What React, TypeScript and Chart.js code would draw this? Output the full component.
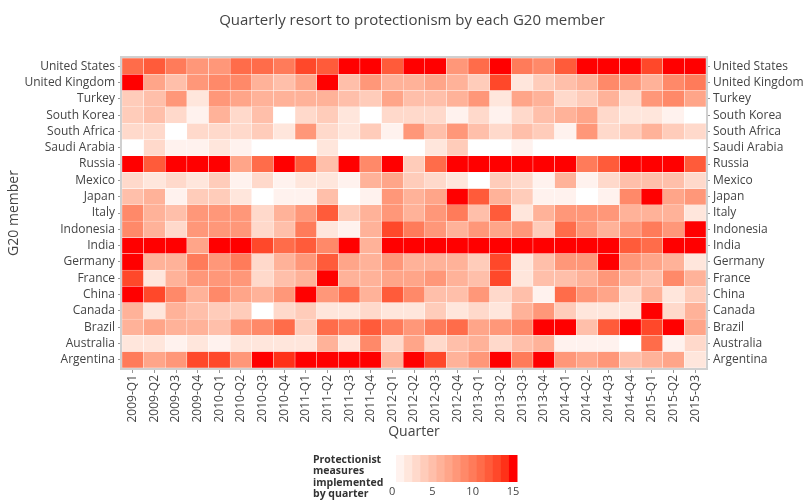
import { useEffect, useRef } from 'react';
import { Chart, registerables } from 'chart.js';

Chart.register(...registerables);

// Rows from bottom to top
const countries = [
  'Argentina', 'Australia', 'Brazil', 'Canada', 'China', 'France', 'Germany', 'India',
  'Indonesia', 'Italy', 'Japan', 'Mexico', 'Russia', 'Saudi Arabia', 'South Africa',
  'South Korea', 'Turkey', 'United Kingdom', 'United States',
];

const quarters = [
  '2009-Q1', '2009-Q2', '2009-Q3', '2009-Q4', '2010-Q1', '2010-Q2', '2010-Q3', '2010-Q4',
  '2011-Q1', '2011-Q2', '2011-Q3', '2011-Q4', '2012-Q1', '2012-Q2', '2012-Q3', '2012-Q4',
  '2013-Q1', '2013-Q2', '2013-Q3', '2013-Q4', '2014-Q1', '2014-Q2', '2014-Q3', '2014-Q4',
  '2015-Q1', '2015-Q2', '2015-Q3',
];

const argentina = [10,7,8,13,13,8,15,14,15,15,15,15,6,15,13,6,8,15,10,15,8,7,8,5,6,7,2];
const australia = [2,2,1,2,1,2,2,2,2,6,2,9,3,7,3,5,6,3,5,6,1,1,1,0,11,1,3];
const brazil = [6,7,6,6,5,8,9,11,4,11,10,12,10,8,10,11,7,8,9,15,15,5,12,15,13,15,7];
const canada = [6,2,6,5,4,4,0,3,4,2,2,3,2,2,4,2,3,2,6,8,4,2,2,2,15,3,6];
const china = [15,13,9,6,9,7,6,8,15,8,11,6,12,9,5,5,8,3,5,1,11,8,7,3,6,2,4];
const france = [13,2,6,8,8,8,3,5,6,15,6,6,7,7,8,6,5,13,2,5,5,6,8,6,5,9,6];
const germany = [15,6,6,10,8,10,3,6,8,12,7,6,8,6,6,6,4,13,2,5,8,8,15,8,7,6,2];
const india = [15,15,15,7,15,15,13,11,12,9,15,6,15,15,15,15,15,15,15,15,15,15,15,12,11,15,15];
const indonesia = [9,6,3,8,8,8,3,5,10,2,1,6,13,10,8,6,8,7,8,4,11,8,6,8,10,8,15];
const italy = [9,6,5,8,8,8,3,6,8,12,4,6,8,6,8,10,5,12,2,6,8,8,8,6,6,6,2];
const japan = [5,6,1,4,4,2,0,1,1,5,0,1,8,6,7,15,12,6,4,1,1,0,1,9,15,7,8];
const mexico = [3,2,3,2,4,1,3,1,2,2,1,6,7,4,3,2,0,4,3,1,6,1,3,5,5,5,3];
const russia = [15,12,15,15,15,7,11,15,12,5,15,9,15,4,11,15,15,15,15,15,15,10,12,15,15,15,12];
const saudiArabia = [0,3,1,1,2,1,0,0,0,2,0,0,0,0,2,4,0,0,1,0,0,0,0,0,0,0,0];
const southAfrica = [3,3,0,3,3,3,4,2,8,3,2,4,1,8,5,8,5,3,5,4,1,8,3,4,6,4,3];
const southKorea = [4,5,3,1,6,3,5,0,3,4,2,0,3,3,3,1,3,1,3,5,6,7,3,2,2,1,0];
const turkey = [4,5,8,2,8,7,6,6,6,6,5,4,7,5,5,6,8,2,7,6,3,4,6,3,8,9,7];
const unitedKingdom = [15,7,5,8,9,9,6,5,7,15,5,8,6,6,7,6,4,13,2,4,5,6,9,8,6,9,10];
const unitedStates = [11,12,10,8,8,11,11,10,13,12,15,15,12,15,15,8,11,15,10,9,12,15,15,15,13,15,15];

const rows = [
  argentina, australia, brazil, canada, china, france, germany, india, indonesia, italy,
  japan, mexico, russia, saudiArabia, southAfrica, southKorea, turkey, unitedKingdom, unitedStates,
];

const colorTicks = [0, 5, 10, 15];
const zMin = 0;
const zMax = 15;
const chartTitle = 'Quarterly resort to protectionism by each G20 member';
const colorbarTitle = ['Protectionist', 'measures', 'implemented', 'by quarter'];

const FONT = '"Open Sans", "DejaVu Sans", sans-serif';

function toLin(c: number) {
  const v = c / 255;
  return v <= 0.04045 ? v / 12.92 : Math.pow((v + 0.055) / 1.055, 2.4);
}
function fromLin(c: number) {
  const v = c <= 0.0031308 ? 12.92 * c : 1.055 * Math.pow(c, 1 / 2.4) - 0.055;
  return Math.round(Math.max(0, Math.min(1, v)) * 255);
}
function rgbToLab(rgb: number[]) {
  const R = toLin(rgb[0]), G = toLin(rgb[1]), B = toLin(rgb[2]);
  const X = (0.4124 * R + 0.3576 * G + 0.1805 * B) / 0.95047;
  const Y = 0.2126 * R + 0.7152 * G + 0.0722 * B;
  const Z = (0.0193 * R + 0.1192 * G + 0.9505 * B) / 1.08883;
  const f = (t: number) => (t > 0.008856 ? Math.cbrt(t) : 7.787 * t + 16 / 116);
  const fx = f(X), fy = f(Y), fz = f(Z);
  return [116 * fy - 16, 500 * (fx - fy), 200 * (fy - fz)];
}
function labToRgb(lab: number[]) {
  const fy = (lab[0] + 16) / 116;
  const fx = fy + lab[1] / 500;
  const fz = fy - lab[2] / 200;
  const inv = (t: number) => (t * t * t > 0.008856 ? t * t * t : (t - 16 / 116) / 7.787);
  const X = inv(fx) * 0.95047, Y = inv(fy), Z = inv(fz) * 1.08883;
  const R = 3.2406 * X - 1.5372 * Y - 0.4986 * Z;
  const G = -0.9689 * X + 1.8758 * Y + 0.0415 * Z;
  const B = 0.0557 * X - 0.204 * Y + 1.057 * Z;
  return [fromLin(R), fromLin(G), fromLin(B)];
}
const labLow = rgbToLab([255, 255, 255]);
const labHigh = rgbToLab([255, 0, 0]);
function colorFor(v: number) {
  const t = Math.max(0, Math.min(1, (v - zMin) / (zMax - zMin)));
  const lab = labLow.map((l, i) => l + (labHigh[i] - l) * t);
  const [r, g, b] = labToRgb(lab);
  return `rgb(${r},${g},${b})`;
}

const decorPlugin = {
  id: 'decor',
  afterDraw(chart: any) {
    const { ctx, chartArea } = chart;
    const cx = (chartArea.left + chartArea.right) / 2;
    ctx.save();
    // frame
    ctx.strokeStyle = '#d0d0d0';
    ctx.lineWidth = 2;
    ctx.strokeRect(chartArea.left - 1, chartArea.top - 1, chartArea.right - chartArea.left + 2, chartArea.bottom - chartArea.top + 2);
    // title
    ctx.fillStyle = '#444';
    ctx.font = `15px ${FONT}`;
    ctx.textAlign = 'center';
    ctx.textBaseline = 'middle';
    ctx.fillText(chartTitle, cx - 2, 21);
    // colorbar
    const barLeft = cx - 26;
    const barW = 129;
    const barTop = 455;
    const barH = 27;
    const levels = zMax - zMin + 1;
    const segW = barW / levels;
    for (let i = 0; i < levels; i++) {
      ctx.fillStyle = colorFor(zMin + i);
      ctx.fillRect(barLeft + i * segW, barTop, segW + 0.5, barH);
    }
    ctx.fillStyle = '#444';
    ctx.font = `11px ${FONT}`;
    ctx.textAlign = 'center';
    ctx.textBaseline = 'middle';
    colorTicks.forEach((v) => {
      ctx.fillText(String(v), barLeft + (v - zMin + 0.5) * segW, 492);
    });
    ctx.fillStyle = '#333';
    ctx.font = `bold 10.5px ${FONT}`;
    ctx.textAlign = 'left';
    colorbarTitle.forEach((line, i) => {
      ctx.fillText(line, cx - 101, 460 + i * 11.4);
    });
    ctx.restore();
  },
};

export default function App() {
  const ref = useRef<HTMLCanvasElement>(null);
  useEffect(() => {
    if (!ref.current) return;
    const datasets = rows.map((vals, r) => ({
      label: countries[r],
      data: quarters.map(() => [r, r + 1]),
      backgroundColor: vals.map(colorFor),
      borderColor: 'rgba(255,255,255,0.45)',
      borderWidth: 0.5,
      borderSkipped: false,
      categoryPercentage: 1,
      barPercentage: 1,
      grouped: false,
    }));
    const yCommon = (position: 'left' | 'right', width: number, showTitle: boolean) => ({
      type: 'linear' as const,
      position,
      min: 0,
      max: countries.length,
      afterBuildTicks: (s: any) => {
        s.ticks = countries.map((_, i) => ({ value: i + 0.5 }));
      },
      afterFit: (s: any) => {
        s.width = width;
      },
      ticks: {
        autoSkip: false,
        callback: (v: any) => countries[Math.floor(Number(v))],
        color: '#444',
        font: { family: FONT, size: 12 },
        padding: 3,
      },
      grid: { drawOnChartArea: false, drawTicks: true, tickLength: 4, color: '#999' },
      border: { display: false },
      title: {
        display: showTitle,
        text: 'G20 member',
        color: '#444',
        font: { family: FONT, size: 14 },
        padding: { top: 0, bottom: 4 },
      },
    });
    const chart = new Chart(ref.current, {
      type: 'bar',
      data: { labels: quarters, datasets: datasets as any },
      options: {
        animation: false,
        responsive: false,
        devicePixelRatio: 1,
        layout: { padding: { top: 58, left: 6, right: 0, bottom: 60 } },
        plugins: { legend: { display: false }, tooltip: { enabled: false }, title: { display: false } },
        scales: {
          x: {
            type: 'category',
            offset: true,
            afterFit: (s: any) => {
              s.height = 74;
            },
            ticks: {
              autoSkip: false,
              minRotation: 90,
              maxRotation: 90,
              color: '#444',
              font: { family: FONT, size: 12 },
              padding: 2,
            },
            grid: { drawOnChartArea: false, drawTicks: true, tickLength: 5, color: '#999', offset: false },
            border: { display: false },
            title: {
              display: true,
              text: 'Quarter',
              color: '#444',
              font: { family: FONT, size: 14 },
              padding: { top: 2, bottom: 2 },
            },
          },
          y: yCommon('left', 116, true) as any,
          y2: yCommon('right', 99, false) as any,
        },
      },
      plugins: [decorPlugin],
    });
    return () => chart.destroy();
  }, []);
  return (
    <div style={{ position: 'fixed', left: 0, top: 0, width: 805, height: 502, background: '#fff' }}>
      <canvas ref={ref} width={805} height={502} style={{ width: 805, height: 502 }} />
    </div>
  );
}
